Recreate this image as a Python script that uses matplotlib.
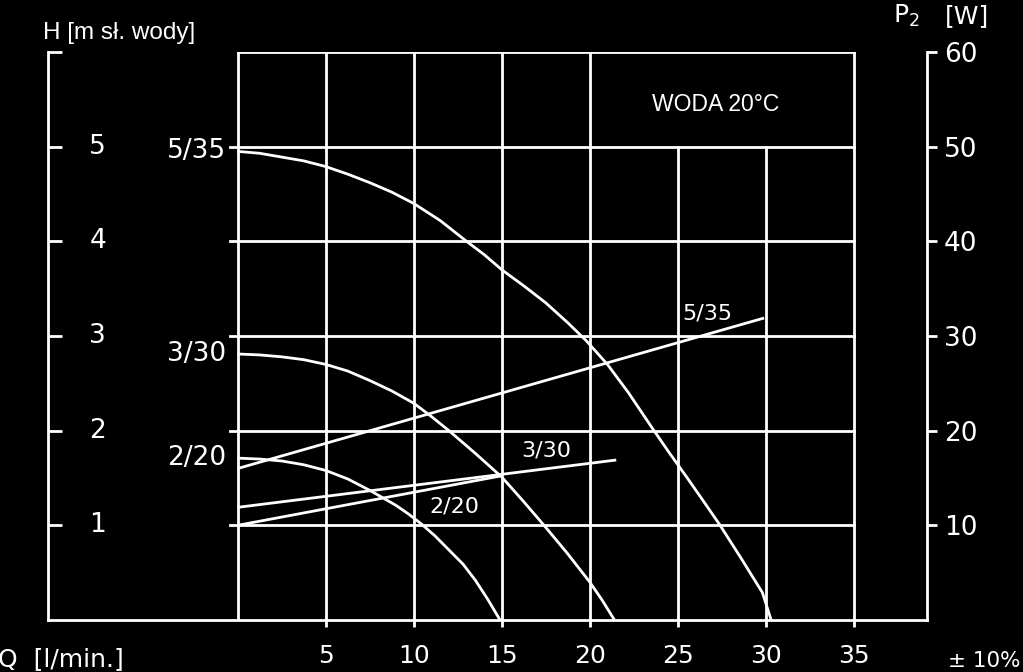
import matplotlib
matplotlib.use("Agg")
import matplotlib.pyplot as plt

# Q [l/min] / H [m] - krzywe pompy
q_535 = [0, 1.25, 2.5, 3.75, 5, 6.25, 7.5, 8.75, 10, 11.5, 13, 14, 15, 16.25,
         17.5, 18.75, 19.8, 21, 22.2, 23.5, 24.5, 25.5, 26.4, 27.4, 28.6, 29.8, 30.3]
h_535 = [4.95, 4.93, 4.89, 4.85, 4.79, 4.71, 4.62, 4.52, 4.40, 4.22, 4.00, 3.86, 3.70, 3.53,
         3.35, 3.14, 2.95, 2.70, 2.40, 2.04, 1.77, 1.51, 1.27, 1.00, 0.65, 0.29, 0]

q_330 = [0, 1.25, 2.5, 3.75, 5, 6.25, 7.5, 8.75, 10, 11, 12, 13.5, 15, 16.2,
         17.4, 18.7, 20, 20.7, 21.4]
h_330 = [2.81, 2.80, 2.78, 2.75, 2.70, 2.63, 2.53, 2.42, 2.29, 2.15, 2.00, 1.76, 1.51, 1.26,
         1.00, 0.71, 0.40, 0.21, 0]

q_220 = [0, 1.25, 2.5, 3.75, 5, 6.25, 7.5, 8.25, 9, 9.7, 10.4, 11.2, 12, 12.8,
         13.5, 14.2, 14.9]
h_220 = [1.71, 1.70, 1.68, 1.64, 1.58, 1.49, 1.37, 1.29, 1.21, 1.12, 1.02, 0.89, 0.74, 0.59,
         0.42, 0.22, 0]

# moc P2 [W]
pq_535 = [0, 29.9]
p_535 = [16.0, 31.9]
pq_330 = [0, 21.5]
p_330 = [11.9, 16.9]
pq_220 = [0, 14.9]
p_220 = [10.0, 15.2]

q_ticks = [5, 10, 15, 20, 25, 30, 35]
h_ticks = [1, 2, 3, 4, 5]
p_ticks = [10, 20, 30, 40, 50, 60]
names = ['5/35', '3/30', '2/20']

W = 'white'
LW = 2.0
tech = 'DejaVu Sans'
helv = 'Liberation Sans'

fig = plt.figure(figsize=(10.23, 6.72), dpi=100, facecolor='black')
ax = fig.add_axes([48 / 1023, 52 / 672, 879 / 1023, 568 / 672])
ax.set_facecolor('black')
ax.set_xlim(-10.77, 39.15)
ax.set_ylim(0, 6)

# siatka
for h in [1, 2, 3, 4, 5]:
    ax.plot([-0.45, 35], [h, h], color=W, lw=LW)
ax.plot([0, 35], [6, 6], color=W, lw=LW)
for q in [0, 5, 10, 15, 20, 35]:
    ax.plot([q, q], [0, 6], color=W, lw=LW)
for q in [25, 30]:
    ax.plot([q, q], [0, 5], color=W, lw=LW)

# krzywe H(Q)
for q, h in [(q_535, h_535), (q_330, h_330), (q_220, h_220)]:
    ax.plot(q, h, color=W, lw=LW, solid_capstyle='butt', solid_joinstyle='round')

for name, h in zip(names, [h_535, h_330, h_220]):
    ax.text(-0.65, h[0], name, color=W, fontsize=19, family=tech,
            ha='right', va='center')

for h in h_ticks:
    ax.text(-7.95, h, str(h), color=W, fontsize=19, family=tech,
            ha='center', va='center')

ax.text(27.17, 5.45, 'WODA 20°C', color=W, fontsize=16.5, family=helv,
        ha='center', va='center')

# osie
for s in ['top', 'right']:
    ax.spines[s].set_visible(False)
for s in ['left', 'bottom']:
    ax.spines[s].set_color(W)
    ax.spines[s].set_linewidth(LW)
ax.set_yticks(h_ticks + [6])
ax.tick_params(axis='y', direction='in', length=10, width=LW, color=W,
               labelleft=False)
ax.set_xticks(q_ticks)
ax.set_xticklabels([str(q) for q in q_ticks])
ax.tick_params(axis='x', direction='out', length=5, width=LW, color=W,
               labelcolor=W, labelsize=18, pad=12)

ax2 = ax.twinx()
ax2.set_ylim(0, 60)
for s in ['top', 'left', 'bottom']:
    ax2.spines[s].set_visible(False)
ax2.spines['right'].set_color(W)
ax2.spines['right'].set_linewidth(LW)
ax2.set_yticks(p_ticks)
ax2.tick_params(axis='y', direction='out', length=7, width=LW, color=W,
                labelcolor=W, labelsize=19, pad=5)

# linie mocy P2(Q)
for q, p in [(pq_535, p_535), (pq_330, p_330), (pq_220, p_220)]:
    ax2.plot(q, p, color=W, lw=LW, solid_capstyle='butt')

ax2.text(26.65, 32.4, '5/35', color=W, fontsize=16, family=tech, ha='center', va='center')
ax2.text(17.55, 17.9, '3/30', color=W, fontsize=16, family=tech, ha='center', va='center')
ax2.text(12.29, 12.0, '2/20', color=W, fontsize=16, family=tech, ha='center', va='center')

# opisy osi
fig.text(43 / 1023, (672 - 39) / 672, 'H [m sł. wody]', color=W, fontsize=17.5,
         family=helv, ha='left', va='baseline')
fig.text(893 / 1023, (672 - 23) / 672, 'P$_2$', color=W, fontsize=18,
         ha='left', va='baseline')
fig.text(945 / 1023, (672 - 23) / 672, '[W]', color=W, fontsize=18, family=tech,
         ha='left', va='baseline')
fig.text(-2 / 1023, (672 - 666) / 672, 'Q  [l/min.]', color=W, fontsize=18,
         family=tech, ha='left', va='baseline')
fig.text(948 / 1023, (672 - 667) / 672, '± 10%', color=W, fontsize=15.5,
         family=tech, ha='left', va='baseline')

fig.savefig('out.png', dpi=100, facecolor='black')
